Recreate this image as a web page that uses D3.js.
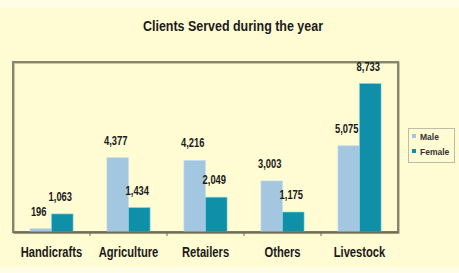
<!DOCTYPE html>
<html><head><meta charset="utf-8">
<script src="https://cdn.jsdelivr.net/npm/d3@7"></script>
<style>
html,body{margin:0;padding:0;background:#fffbd4;}
svg{display:block;font-family:"Liberation Sans",Arial,sans-serif;}
</style></head>
<body>
<svg id="c" width="459" height="273"></svg>
<script>
const title = "Clients Served during the year";
const categories = ["Handicrafts","Agriculture","Retailers","Others","Livestock"];
const seriesNames = ["Male","Female"];
const male = [196, 4377, 4216, 3003, 5075];
const female = [1063, 1434, 2049, 1175, 8733];
const yMax = 10000;
const colors = {Male:"#a3c7e0", Female:"#0f8fa8"};

(function(){
const svg = d3.select("#c");
const W = 459, H = 273;
const pl = 13, pr = 398, pt = 62, pb = 232;

// background
svg.append("rect").attr("x",0).attr("y",0).attr("width",W).attr("height",H).attr("fill","#fffde6");
svg.append("rect").attr("x",0).attr("y",8).attr("width",W).attr("height",259).attr("fill","#fffbd3");

// title
svg.append("text").attr("transform",`translate(233,31) scale(0.89,1)`)
  .attr("text-anchor","middle").attr("font-size",14).attr("font-weight","bold")
  .attr("fill","#1a1a1a").text(title);

const x0 = d3.scaleBand().domain(categories).range([pl,pr]).paddingInner(0.44).paddingOuter(0.22);
const x1 = d3.scaleBand().domain(seriesNames).range([0,x0.bandwidth()]);
const y = d3.scaleLinear().domain([0,yMax]).range([pb,pt]);

const data = categories.map((c,i)=>({cat:c, vals:[{s:"Male",v:male[i]},{s:"Female",v:female[i]}]}));

// plot frame
svg.append("rect").attr("x",pl+1).attr("y",pt+1).attr("width",pr-pl).attr("height",pb-pt)
  .attr("fill","none").attr("stroke","#c9c7a6").attr("stroke-width",2);
svg.append("rect").attr("x",pl).attr("y",pt).attr("width",pr-pl).attr("height",pb-pt)
  .attr("fill","none").attr("stroke","#86866a").attr("stroke-width",2);

const g = svg.selectAll("g.cat").data(data).join("g").attr("class","cat")
  .attr("transform",d=>`translate(${x0(d.cat)},0)`);
g.selectAll("rect").data(d=>d.vals).join("rect")
  .attr("x",d=>x1(d.s)).attr("y",d=>y(d.v))
  .attr("width",x1.bandwidth()).attr("height",d=>y(0)-y(d.v))
  .attr("fill",d=>colors[d.s])
  .attr("stroke",d=>d.s==="Female"?"#7fd6e2":"#c6def0").attr("stroke-width",0.6);

g.selectAll("text").data(d=>d.vals).join("text")
  .attr("transform",d=>`translate(${x1(d.s)+x1.bandwidth()/2-2},${y(d.v)-13}) scale(0.78,1)`)
  .attr("text-anchor","middle").attr("font-size",12).attr("font-weight","bold").attr("fill","#1a1a1a")
  .text(d=>d3.format(",")(d.v));

// x axis
const xAxis = svg.append("g").attr("transform",`translate(0,${pb})`)
  .call(d3.axisBottom(x0).tickSize(0).tickPadding(15));
xAxis.select(".domain").attr("stroke","#6f6f58").attr("stroke-width",2);
xAxis.selectAll(".tick text").attr("font-size",14).attr("font-weight","bold").attr("fill","#1a1a1a")
  .attr("font-family","'Liberation Sans',Arial,sans-serif")
  .attr("transform","scale(0.8,1)");
// boundary ticks
const step = x0.step();
const bounds = d3.range(1,categories.length).map(i=>pl+i*step);
svg.append("g").selectAll("line").data(bounds).join("line")
  .attr("x1",d=>d).attr("x2",d=>d).attr("y1",pb).attr("y2",pb+4)
  .attr("stroke","#6f6f58").attr("stroke-width",1);

// legend
const lg = svg.append("g");
lg.append("rect").attr("x",408.5).attr("y",128.5).attr("width",46).attr("height",34)
  .attr("fill","#fffbd3").attr("stroke","#bdbca5").attr("stroke-width",1);
seriesNames.forEach((s,i)=>{
  lg.append("rect").attr("x",412).attr("y",134+i*15).attr("width",4).attr("height",4).attr("fill",colors[s]);
  lg.append("text").attr("x",420).attr("y",140+i*15).attr("font-size",8.5).attr("font-weight","bold")
    .attr("fill","#333").text(s);
});
})();
</script>
</body></html>
